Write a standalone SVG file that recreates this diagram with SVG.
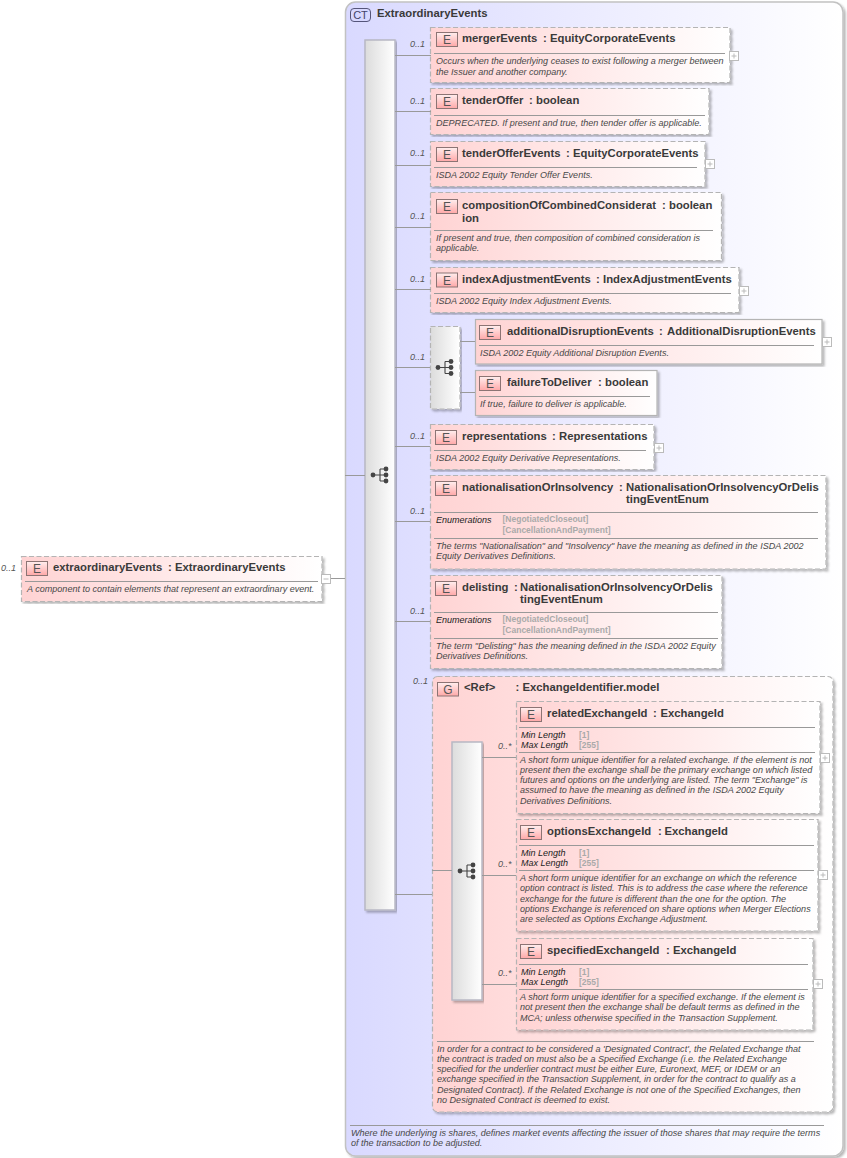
<svg xmlns="http://www.w3.org/2000/svg" xmlns:xlink="http://www.w3.org/1999/xlink" width="847" height="1158" viewBox="0 0 847 1158">
<style>
text{font-family:"Liberation Sans",Arial,sans-serif;fill:#3a3a3a}
.t{font-size:11.3px;font-weight:bold}
.d{font-size:9.05px;font-style:italic;fill:#484848}
.o{font-size:9px;font-style:italic;fill:#555}
.k{font-size:9px;font-style:italic;fill:#222}
.v{font-size:8.5px;font-weight:bold;fill:#aaa}
.i{font-size:12px;text-anchor:middle;fill:#555}
.nd{fill:url(#pk);stroke:#b4b4b4;stroke-width:1.2;stroke-dasharray:5 2.5;filter:url(#sh)}
.ns{fill:url(#pk);stroke:#b4b4b4;stroke-width:1.2;filter:url(#sh)}
.ic{fill:url(#ic);stroke:#8c7474;stroke-width:1}
.sp{stroke:#999;stroke-width:1;fill:none}
.c{stroke:#999;stroke-width:1;fill:none}
.pb{fill:#fff;stroke:#bbb;stroke-width:1}
.pl{stroke:#bbb;stroke-width:1;fill:none}
.bar{fill:url(#gy);stroke:#b8b8c4;stroke-width:1.5;filter:url(#sh)}
.bd{fill:url(#gy);stroke:#b4b4b4;stroke-width:1.2;stroke-dasharray:5 2.5;filter:url(#sh)}
.dot{fill:#444;stroke:none}
.sl{stroke:#444;stroke-width:1.1;fill:none}
</style>
<defs>
<linearGradient id="pk" x1="0" y1="0" x2="1" y2="0"><stop offset="0" stop-color="#ffd3d3"/><stop offset="1" stop-color="#ffffff"/></linearGradient>
<linearGradient id="bl" x1="0" y1="0" x2="1" y2="0"><stop offset="0" stop-color="#d9d9ff"/><stop offset="1" stop-color="#ffffff"/></linearGradient>
<linearGradient id="gy" x1="0" y1="0" x2="1" y2="0"><stop offset="0" stop-color="#dcdcdc"/><stop offset="1" stop-color="#ffffff"/></linearGradient>
<linearGradient id="ic" x1="0" y1="0" x2="0" y2="1"><stop offset="0" stop-color="#ffeeee"/><stop offset="1" stop-color="#ffa8a8"/></linearGradient>
<filter id="sh" x="-5%" y="-5%" width="110%" height="110%"><feDropShadow dx="2" dy="2" stdDeviation="1" flood-color="#000" flood-opacity="0.28"/></filter>
<g id="seq"><circle class="dot" cx="-7" cy="0" r="2.4"/><circle class="dot" cx="6" cy="-6" r="2.4"/><circle class="dot" cx="6" cy="0" r="2.4"/><circle class="dot" cx="6" cy="6" r="2.4"/><path class="sl" d="M-7 0H0M0 -6V6M0 -6H6M0 0H6M0 6H6"/></g>
<g id="plus"><rect class="pb" x="0.5" y="0.5" width="9" height="9"/><path class="pl" d="M2.5 5H7.5M5 2.5V7.5"/></g>
</defs>

<g id="ct-ExtraordinaryEvents">
<rect x="345.500" y="2" width="497.500" height="1154" rx="10" fill="url(#bl)" stroke="#c2c2c2" stroke-width="1.500" filter="url(#sh)"/>
<rect x="350.500" y="8.500" width="20" height="13" rx="3.500" fill="#d8d8ff" stroke="#55557a"/>
<text x="360.500" y="19" class="i" style="fill:#44446a;font-size:11px">CT</text>
<text x="377" y="17" class="t">ExtraordinaryEvents</text>
<path class="sp" d="M350 1125.500H824"/>
<text x="351" y="1136" class="d">Where the underlying is shares, defines market events affecting the issuer of those shares that may require the terms</text>
<text x="351" y="1146" class="d">of the transaction to be adjusted.</text>
</g>

<g id="seq-main"><rect class="bar" x="365" y="40" width="30" height="870"/><use xlink:href="#seq" href="#seq" x="380" y="475"/></g>

<g id="extraordinaryEvents">
<text x="1" y="571" class="o">0..1</text>
<rect class="nd" x="21.500" y="556.500" width="300.500" height="45"/>
<rect class="ic" x="26.500" y="561.500" width="21" height="14"/><text x="37" y="573" class="i">E</text>
<text x="53" y="571" class="t">extraordinaryEvents<tspan x="168">:</tspan><tspan x="175">ExtraordinaryEvents</tspan></text>
<path class="sp" d="M25 581.500H318"/>
<text x="27" y="592" class="d">A component to contain elements that represent an extraordinary event.</text>
<rect class="pb" x="321.500" y="574.500" width="9" height="9"/><path class="pl" d="M323.500 579H328.500"/>
</g>

<g id="mergerEvents">
<text x="410" y="47" class="o">0..1</text>
<rect class="nd" x="430.500" y="27.500" width="299.500" height="55"/>
<rect class="ic" x="436.500" y="32.500" width="21" height="14"/><text x="447" y="44" class="i">E</text>
<text x="462" y="42" class="t">mergerEvents<tspan x="543">:</tspan><tspan x="550">EquityCorporateEvents</tspan></text>
<path class="sp" d="M434 53.500H725"/>
<text x="436" y="64" class="d">Occurs when the underlying ceases to exist following a merger between</text>
<text x="436" y="75" class="d">the Issuer and another company.</text>
<use xlink:href="#plus" href="#plus" x="729" y="51"/>
</g>

<g id="tenderOffer">
<text x="410" y="104" class="o">0..1</text>
<rect class="nd" x="430.500" y="88.500" width="278.500" height="46"/>
<rect class="ic" x="436.500" y="94.500" width="21" height="14"/><text x="447" y="106" class="i">E</text>
<text x="462" y="104" class="t">tenderOffer<tspan x="529">:</tspan><tspan x="536">boolean</tspan></text>
<path class="sp" d="M434 115.500H705"/>
<text x="436" y="126" class="d">DEPRECATED. If present and true, then tender offer is applicable.</text>
</g>

<g id="tenderOfferEvents">
<text x="410" y="156" class="o">0..1</text>
<rect class="nd" x="430.500" y="141.500" width="274.500" height="45"/>
<rect class="ic" x="436.500" y="147.500" width="21" height="14"/><text x="447" y="159" class="i">E</text>
<text x="462" y="157" class="t">tenderOfferEvents<tspan x="566">:</tspan><tspan x="573">EquityCorporateEvents</tspan></text>
<path class="sp" d="M434 167.500H697"/>
<text x="436" y="178" class="d">ISDA 2002 Equity Tender Offer Events.</text>
<use xlink:href="#plus" href="#plus" x="705" y="159"/>
</g>

<g id="compositionOfCombinedConsideration">
<text x="410" y="219" class="o">0..1</text>
<rect class="nd" x="430.500" y="192.500" width="291" height="68"/>
<rect class="ic" x="436.500" y="199.500" width="21" height="14"/><text x="447" y="211" class="i">E</text>
<text x="462" y="209" class="t">compositionOfCombinedConsiderat<tspan x="662">:</tspan><tspan x="669">boolean</tspan></text>
<text x="462" y="222" class="t">ion</text>
<path class="sp" d="M434 230.500H713"/>
<text x="436" y="241" class="d">If present and true, then composition of combined consideration is</text>
<text x="436" y="251" class="d">applicable.</text>
</g>

<g id="indexAdjustmentEvents">
<text x="410" y="282" class="o">0..1</text>
<rect class="nd" x="430.500" y="267.500" width="308.500" height="45"/>
<rect class="ic" x="436.500" y="273" width="21" height="14"/><text x="447" y="284.500" class="i">E</text>
<text x="462" y="282.500" class="t">indexAdjustmentEvents<tspan x="596">:</tspan><tspan x="603">IndexAdjustmentEvents</tspan></text>
<path class="sp" d="M434 293.500H731"/>
<text x="436" y="304" class="d">ISDA 2002 Equity Index Adjustment Events.</text>
<use xlink:href="#plus" href="#plus" x="739" y="286"/>
</g>

<g id="choice">
<text x="410" y="360" class="o">0..1</text>
<rect class="bd" x="430.500" y="326.500" width="29.500" height="82.500"/>
<use xlink:href="#seq" href="#seq" x="445" y="367.500"/>
</g>

<g id="additionalDisruptionEvents">
<rect class="ns" x="475.500" y="319.500" width="346.500" height="44.500"/>
<rect class="ic" x="479.500" y="325.500" width="21" height="14"/><text x="490" y="337" class="i">E</text>
<text x="507" y="334.500" class="t">additionalDisruptionEvents<tspan x="659">:</tspan><tspan x="667">AdditionalDisruptionEvents</tspan></text>
<path class="sp" d="M479 345.500H814"/>
<text x="480" y="356" class="d">ISDA 2002 Equity Additional Disruption Events.</text>
<use xlink:href="#plus" href="#plus" x="822" y="337"/>
</g>

<g id="failureToDeliver">
<rect class="ns" x="475.500" y="370.500" width="181.500" height="45"/>
<rect class="ic" x="479.500" y="376.500" width="21" height="14"/><text x="490" y="388" class="i">E</text>
<text x="507" y="385.500" class="t">failureToDeliver<tspan x="598">:</tspan><tspan x="605">boolean</tspan></text>
<path class="sp" d="M479 396.500H650"/>
<text x="480" y="407" class="d">If true, failure to deliver is applicable.</text>
</g>

<g id="representations">
<text x="410" y="439" class="o">0..1</text>
<rect class="nd" x="430.500" y="424.500" width="223.500" height="45"/>
<rect class="ic" x="435.500" y="430.500" width="21" height="14"/><text x="446" y="442" class="i">E</text>
<text x="462" y="439.500" class="t">representations<tspan x="552">:</tspan><tspan x="559">Representations</tspan></text>
<path class="sp" d="M434 450.500H646"/>
<text x="436" y="461" class="d">ISDA 2002 Equity Derivative Representations.</text>
<use xlink:href="#plus" href="#plus" x="654" y="443"/>
</g>

<g id="nationalisationOrInsolvency">
<text x="410" y="514" class="o">0..1</text>
<rect class="nd" x="430.500" y="475.500" width="395.500" height="93.500"/>
<rect class="ic" x="435.500" y="481.500" width="21" height="14"/><text x="446" y="493" class="i">E</text>
<text x="462" y="491" class="t">nationalisationOrInsolvency<tspan x="619">:</tspan><tspan x="626">NationalisationOrInsolvencyOrDelis</tspan></text>
<text x="626" y="503" class="t">tingEventEnum</text>
<path class="sp" d="M434 512.500H818"/>
<text x="436" y="523" class="k">Enumerations</text>
<text x="502.500" y="522" class="v">[NegotiatedCloseout]</text>
<text x="502.500" y="533" class="v">[CancellationAndPayment]</text>
<path class="sp" d="M434 538.500H818"/>
<text x="436" y="549" class="d">The terms "Nationalisation" and "Insolvency" have the meaning as defined in the ISDA 2002</text>
<text x="436" y="559" class="d">Equity Derivatives Definitions.</text>
</g>

<g id="delisting">
<text x="410" y="614" class="o">0..1</text>
<rect class="nd" x="430.500" y="575.500" width="291.500" height="93"/>
<rect class="ic" x="435.500" y="581.500" width="21" height="14"/><text x="446" y="593" class="i">E</text>
<text x="462" y="591" class="t">delisting<tspan x="514">:</tspan><tspan x="520">NationalisationOrInsolvencyOrDelis</tspan></text>
<text x="520" y="603" class="t">tingEventEnum</text>
<path class="sp" d="M434 612.500H718"/>
<text x="436" y="623" class="k">Enumerations</text>
<text x="502.500" y="622" class="v">[NegotiatedCloseout]</text>
<text x="502.500" y="633" class="v">[CancellationAndPayment]</text>
<path class="sp" d="M434 638.500H718"/>
<text x="436" y="649" class="d">The term "Delisting" has the meaning defined in the ISDA 2002 Equity</text>
<text x="436" y="659" class="d">Derivatives Definitions.</text>
</g>

<g id="ExchangeIdentifier.model">
<text x="413" y="684" class="o">0..1</text>
<rect class="nd" x="432.500" y="676.500" width="400.500" height="435.500" rx="5"/>
<rect class="ic" x="437.500" y="682.500" width="21" height="13.500"/><text x="448" y="693.500" class="i">G</text>
<text x="464" y="691" class="t">&lt;Ref&gt;<tspan x="515.500">:</tspan><tspan x="522.500">ExchangeIdentifier.model</tspan></text>
<path class="sp" d="M437 1041.500H814"/>
<text x="437" y="1052" class="d">In order for a contract to be considered a 'Designated Contract', the Related Exchange that</text>
<text x="437" y="1062" class="d">the contract is traded on must also be a Specified Exchange (i.e. the Related Exchange</text>
<text x="437" y="1072" class="d">specified for the underlier contract must be either Eure, Euronext, MEF, or IDEM or an</text>
<text x="437" y="1082" class="d">exchange specified in the Transaction Supplement, in order for the contract to qualify as a</text>
<text x="437" y="1093" class="d">Designated Contract). If the Related Exchange is not one of the Specified Exchanges, then</text>
<text x="437" y="1103" class="d">no Designated Contract is deemed to exist.</text>
</g>

<g id="seq-inner"><rect class="bar" x="452" y="742" width="30" height="258"/><use xlink:href="#seq" href="#seq" x="467" y="871"/></g>

<g id="relatedExchangeId">
<text x="498" y="749" class="o">0..*</text>
<rect class="nd" x="516.500" y="701.500" width="303.500" height="112"/>
<rect class="ic" x="520.500" y="707.500" width="21" height="14"/><text x="531" y="719" class="i">E</text>
<text x="547" y="716.500" class="t">relatedExchangeId<tspan x="653">:</tspan><tspan x="660.500">ExchangeId</tspan></text>
<path class="sp" d="M519 727.500H815"/>
<text x="521" y="738" class="k">Min Length</text><text x="579" y="738" class="v">[1]</text>
<text x="521" y="748" class="k">Max Length</text><text x="579" y="748" class="v">[255]</text>
<path class="sp" d="M519 752.500H815"/>
<text x="520" y="763" class="d">A short form unique identifier for a related exchange. If the element is not</text>
<text x="520" y="773" class="d">present then the exchange shall be the primary exchange on which listed</text>
<text x="520" y="783" class="d">futures and options on the underlying are listed. The term "Exchange" is</text>
<text x="520" y="793" class="d">assumed to have the meaning as defined in the ISDA 2002 Equity</text>
<text x="520" y="804" class="d">Derivatives Definitions.</text>
<use xlink:href="#plus" href="#plus" x="820" y="753"/>
</g>

<g id="optionsExchangeId">
<text x="498" y="867" class="o">0..*</text>
<rect class="nd" x="516.500" y="819.500" width="301.500" height="111.500"/>
<rect class="ic" x="520.500" y="825.500" width="21" height="14"/><text x="531" y="837" class="i">E</text>
<text x="547" y="834.500" class="t">optionsExchangeId<tspan x="658">:</tspan><tspan x="664.500">ExchangeId</tspan></text>
<path class="sp" d="M519 845.500H814"/>
<text x="521" y="856" class="k">Min Length</text><text x="579" y="856" class="v">[1]</text>
<text x="521" y="866" class="k">Max Length</text><text x="579" y="866" class="v">[255]</text>
<path class="sp" d="M519 870.500H814"/>
<text x="520" y="881" class="d">A short form unique identifier for an exchange on which the reference</text>
<text x="520" y="891" class="d">option contract is listed. This is to address the case where the reference</text>
<text x="520" y="902" class="d">exchange for the future is different than the one for the option. The</text>
<text x="520" y="912" class="d">options Exchange is referenced on share options when Merger Elections</text>
<text x="520" y="922" class="d">are selected as Options Exchange Adjustment.</text>
<use xlink:href="#plus" href="#plus" x="818" y="870"/>
</g>

<g id="specifiedExchangeId">
<text x="498" y="976" class="o">0..*</text>
<rect class="nd" x="516.500" y="938.500" width="296.500" height="91.500"/>
<rect class="ic" x="520.500" y="944.500" width="21" height="14"/><text x="531" y="956" class="i">E</text>
<text x="547" y="953.500" class="t">specifiedExchangeId<tspan x="666">:</tspan><tspan x="673">ExchangeId</tspan></text>
<path class="sp" d="M519 964.500H808"/>
<text x="521" y="975" class="k">Min Length</text><text x="579" y="975" class="v">[1]</text>
<text x="521" y="985" class="k">Max Length</text><text x="579" y="985" class="v">[255]</text>
<path class="sp" d="M519 989.500H808"/>
<text x="520" y="1000" class="d">A short form unique identifier for a specified exchange. If the element is</text>
<text x="520" y="1010" class="d">not present then the exchange shall be default terms as defined in the</text>
<text x="520" y="1021" class="d">MCA; unless otherwise specified in the Transaction Supplement.</text>
<use xlink:href="#plus" href="#plus" x="813" y="979"/>
</g>

<g id="connectors">
<path class="c" d="M331 578.500H345M345 475.500H365"/>
<path class="c" d="M395 55.500H431M395 111.500H431M395 165.500H431M395 227.500H431M395 289.500H431M395 367.500H430M395 446.500H430M395 521.500H430M395 621.500H430M395 894.500H432"/>
<path class="c" d="M460 341.500H475M460 392.500H475"/>
<path class="c" d="M432 870.500H452M482 757.500H516M482 875.500H516M482 984.500H516"/>
</g>
</svg>
